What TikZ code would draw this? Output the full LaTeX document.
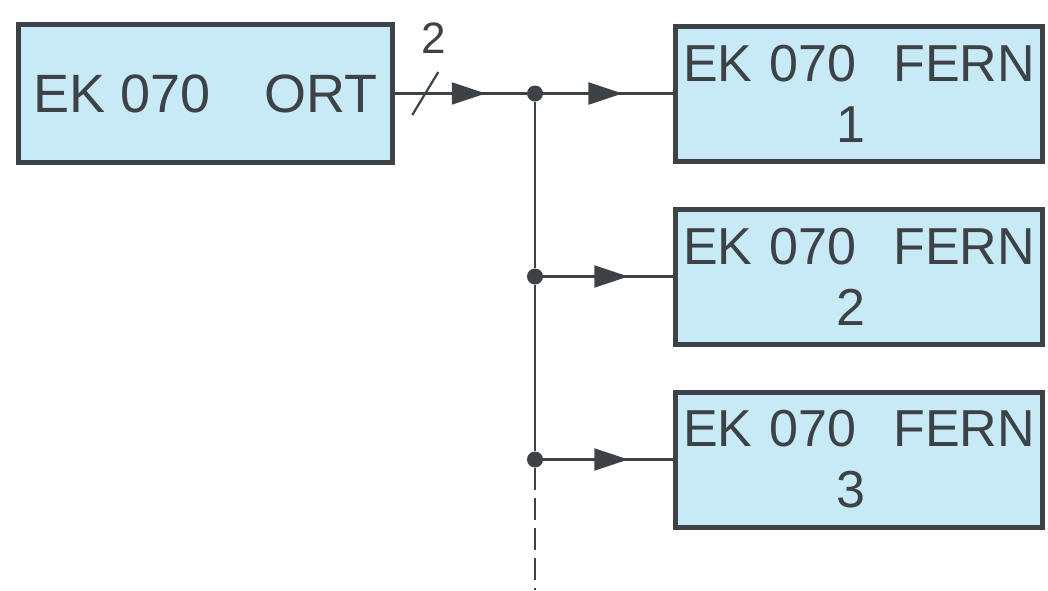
\documentclass[tikz,border=0pt]{standalone}
\usepackage{fontspec}
\setmainfont{Liberation Sans}
\usepackage{tikz}
\usetikzlibrary{arrows.meta,positioning,decorations.markings}

\definecolor{boxblue}{RGB}{200,234,246}
\definecolor{inkgray}{RGB}{60,66,70}

\begin{document}
\begin{tikzpicture}[
  x=0.5pt, y=-0.5pt,
  unit/.style={draw=inkgray, fill=boxblue, line width=2.5pt, inner sep=0pt, text=inkgray,
    font=\fontsize{26}{30.5}\selectfont, minimum height=67.5pt},
  far/.style={unit, align=center, text width=176pt, minimum width=183.5pt},
  junc/.style={circle, fill=inkgray, inner sep=0pt, minimum size=8pt},
  wire/.style={inkgray, line width=1.1pt},
  flow/.style={wire, postaction={decorate},
    decoration={markings, mark=at position #1 with {\arrow{Triangle[length=17pt,width=11pt]}}}},
  flow/.default=0.63,
  node distance=21.5pt and 139pt
]
\useasboundingbox (0,0) rectangle (1048,590);

\node[unit, minimum width=187pt, minimum height=69pt, font=\fontsize{27}{32}\selectfont] (ort) at (205.5,93.5) {EK 070\hspace{27pt}ORT};
\node[far, right=of ort] (fern1) {EK 070\hfill FERN\\1\hspace*{8pt}};
\node[far, below=of fern1] (fern2) {EK 070\hfill FERN\\2\hspace*{8pt}};
\node[far, below=of fern2] (fern3) {EK 070\hfill FERN\\3\hspace*{8pt}};

% bus line with junction dots
\coordinate (bus) at (535,0);
\coordinate (busend) at (535,590);
\node[junc] (j1) at (ort.east -| bus) {};
\node[junc] (j2) at (fern2.west -| bus) {};
\node[junc] (j3) at (fern3.west -| bus) {};

\draw[flow=0.69] (ort) -- coordinate[pos=0.23] (cut) (j1);
\draw[flow=0.61] (j1) -- (fern1);
\draw[flow=0.655] (j2) -- (fern2);
\draw[flow=0.655] (j3) -- (fern3);
\draw[wire] (j1) -- (j2) -- (j3);
\draw[wire, dash pattern=on 11pt off 4pt] (j3) -- (busend);

% two wires
\draw[wire] ([shift={(-13,21.5)}]cut) -- ([shift={(13,-21.5)}]cut);
\node[text=inkgray, font=\fontsize{22}{26}\selectfont] (wires) at ([shift={(8,-55)}]cut) {2};
\end{tikzpicture}
\end{document}
